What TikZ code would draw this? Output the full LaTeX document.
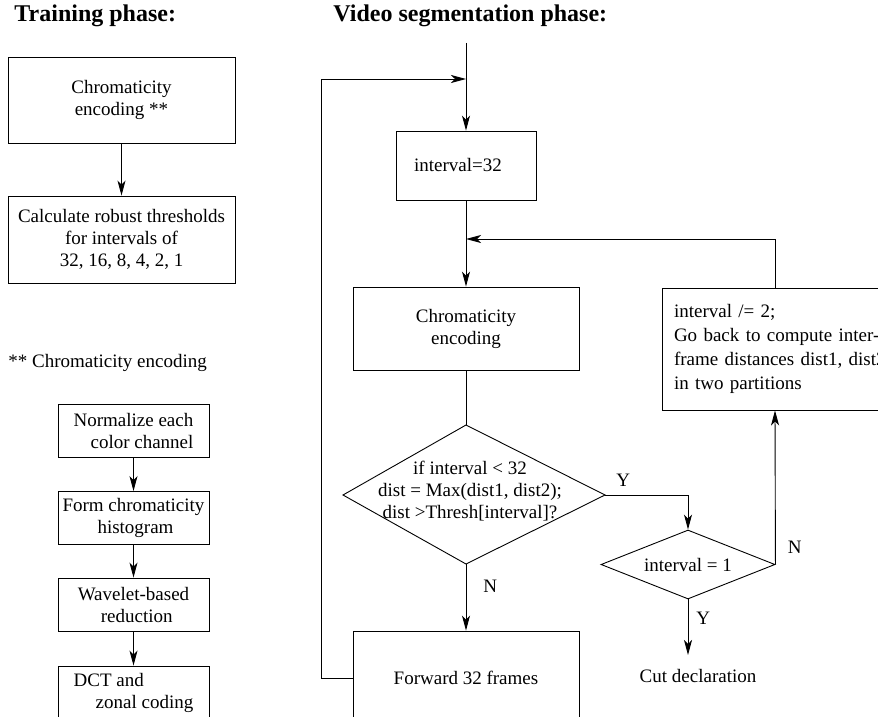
\documentclass[tikz,border=0pt]{standalone}
\usepackage{fontspec}
\setmainfont{Liberation Serif}
\usetikzlibrary{shapes.geometric,arrows.meta}

\begin{document}
\begin{tikzpicture}[x=1pt,y=-1pt,line width=0.9pt,
  >={Stealth[length=15pt,width=8pt,inset=4pt]},
  font=\fontsize{19}{22}\selectfont,
  box/.style={draw,align=center,inner sep=0pt},
  smallbox/.style={box,minimum width=151pt,minimum height=53pt,align=left},
  decision/.style={draw,diamond,inner sep=0pt},
  lbl/.style={inner sep=0pt},
  title/.style={anchor=base west,inner sep=0pt,font=\fontsize{24}{28}\selectfont\bfseries}]

\useasboundingbox (0,0) rectangle (878,717);
\clip (0,0) rectangle (878,717);

\node[title] (ttrain) at (14,22) {Training phase:};
\node[title] (tvideo) at (333,22) {Video segmentation phase:};

\node[box,minimum width=227pt,minimum height=86pt] (tr1) at (121.5,100) {Chromaticity\\ encoding **};
\node[box,minimum width=227pt,minimum height=87pt] (tr2) at (121.5,239.5) {Calculate robust thresholds\\for intervals of\\32, 16, 8, 4, 2, 1};
\draw[->] (tr1) -- (tr2);

\node[anchor=base west,inner sep=0pt] (note) at (8,367) {** Chromaticity encoding};
\node[smallbox] (norm) at (133.5,430.5) {Normalize each\\\hspace*{17pt}color channel};
\node[smallbox] (hist) at (133.5,518) {Form chromaticity\\\hspace*{35pt}histogram};
\node[smallbox] (wave) at (133.5,604.5) {Wavelet-based\\\hspace*{23pt}reduction};
\node[smallbox] (dct) at (133.5,692.5) {DCT and\\\hspace*{22pt}zonal coding};
\foreach \a/\b in {norm/hist,hist/wave,wave/dct}
  \draw[->] (\a) -- (\b);

\coordinate (start) at (466,43);
\coordinate (loop) at (466,79);
\coordinate (join) at (466,239);
\coordinate (cutin) at (688,655);
\coordinate (dectop) at (466,425);
\coordinate (decright) at (605,495);
\coordinate (decbot) at (466,564);
\coordinate (decleft) at (343,495);

\node[box,minimum width=140pt,minimum height=69pt,text width=104pt,align=left] (int) at (466,165.5) {interval=32};
\node[box,minimum width=226pt,minimum height=83pt] (chrom) at (466,328.5) {Chromaticity\\encoding};
\draw (dectop) -- (decright) -- (decbot) -- (decleft) -- cycle;
\node[lbl,align=center] (dectext) at (470,491) {if interval < 32\\dist = Max(dist1, dist2);\\dist >Thresh[interval]?};
\node[box,minimum width=226pt,minimum height=94pt] (fwd) at (466,678) {Forward 32 frames};
\node[decision,aspect=2.52,minimum width=174pt,minimum height=69pt] (dec2) at (688,564.5) {interval = 1};
\node[lbl,anchor=base] (cut) at (698,682) {Cut declaration};
\node[box,minimum width=226pt,minimum height=122pt,text width=202pt,align=left,font=\fontsize{19}{24}\selectfont] (back) at (775,349)
  {\mbox{interval /= 2;}\\\mbox{Go back to compute inter-}\\\mbox{frame distances dist1, dist2}\\\mbox{in two partitions}};

\draw[->] (start) -- (int);
\draw[->] (int) -- (chrom);
\draw (chrom) -- (dectop);
\draw[->] (decbot) -- node[lbl,pos=0.34,right=17pt] {N} (fwd.north);
\draw[->] (decright) -| node[lbl,pos=0.11,above=8pt] {Y} (dec2.north);
\draw[->] (dec2.south) -- node[lbl,pos=0.34,right=8pt] {Y} (cutin);
\draw[->] (dec2.east) -- node[lbl,pos=0.11,right=12pt] {N} (back.south);
\draw[->] (back.north) |- (join);
\draw[->] (fwd.west) -- ++(-31,0) |- (loop);
\end{tikzpicture}
\end{document}
